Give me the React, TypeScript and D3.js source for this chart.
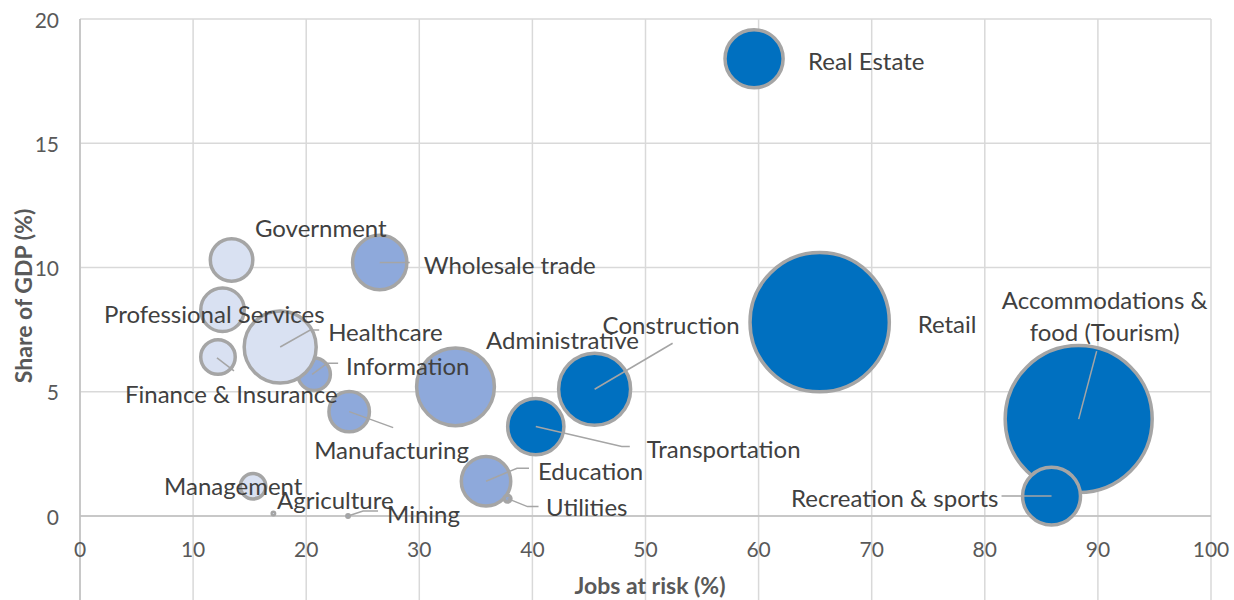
import React from 'react';
import * as d3 from 'd3';

// sector data
const sectors = [
  'Real Estate', 'Retail', 'Accommodations & food (Tourism)', 'Recreation & sports',
  'Construction', 'Transportation', 'Education', 'Utilities', 'Administrative',
  'Manufacturing', 'Information', 'Healthcare', 'Finance & Insurance',
  'Professional Services', 'Government', 'Wholesale trade', 'Management',
  'Agriculture', 'Mining',
];
const jobsAtRisk = [59.6, 65.4, 88.3, 85.9, 45.5, 40.3, 35.9, 37.8, 33.2, 23.8, 20.7, 17.7, 12.2, 12.6, 13.4, 26.5, 15.3, 17.1, 23.7];
const gdpShare = [18.4, 7.8, 3.9, 0.8, 5.1, 3.6, 1.4, 0.7, 5.2, 4.2, 5.7, 6.8, 6.4, 8.3, 10.3, 10.2, 1.2, 0.1, 0.0];
const bubbleSize = [16.6, 90, 100, 16.5, 25, 15.6, 12.2, 0.43, 29, 8.4, 5.6, 25, 6.25, 9.6, 9.2, 14.6, 3.6, 0.11, 0.11];
const riskGroup = ['high', 'high', 'high', 'high', 'high', 'high', 'mid', 'mid', 'mid', 'mid', 'mid', 'low', 'low', 'low', 'low', 'mid', 'low', 'low', 'mid'];
const xTicks = [0, 10, 20, 30, 40, 50, 60, 70, 80, 90, 100];
const yTicks = [0, 5, 10, 15, 20];

// label placement relative to bubble centre (px): text offset, anchor, leader path
type Lbl = { dx: number; dy: number; anchor?: string; lines?: string[]; leader?: [number, number][] };
const labelLayout: Record<string, Lbl> = {
  'Real Estate': { dx: 54, dy: 1 },
  'Retail': { dx: 98, dy: 1 },
  'Accommodations & food (Tourism)': { dx: 26, dy: -120, anchor: 'middle', lines: ['Accommodations &', 'food (Tourism)'], leader: [[0, 0], [18, -68]] },
  'Recreation & sports': { dx: -53, dy: 1, anchor: 'end', leader: [[0, 0], [-50, 0]] },
  'Construction': { dx: 8, dy: -65, leader: [[0, 0], [78, -46]] },
  'Transportation': { dx: 111, dy: 21, leader: [[0, 0], [86, 20], [94, 20]] },
  'Education': { dx: 52, dy: -11, leader: [[0, 0], [31, -13], [43, -13]] },
  'Utilities': { dx: 38.5, dy: 7.5, leader: [[0, 0], [20, 8], [31, 8]] },
  'Administrative': { dx: 30.5, dy: -48 },
  'Manufacturing': { dx: -35, dy: 37, leader: [[0, 0], [44, 16]] },
  'Information': { dx: 32, dy: -9.4, leader: [[-2, 0], [13, -11], [24, -11]] },
  'Healthcare': { dx: 48, dy: -16, leader: [[0, 0], [30, -17], [39, -17]] },
  'Finance & Insurance': { dx: -93, dy: 36, leader: [[-1, 1], [16, 14]] },
  'Professional Services': { dx: -118.5, dy: 3 },
  'Government': { dx: 23.4, dy: -33 },
  'Wholesale trade': { dx: 44, dy: 1.5, leader: [[0, 0], [30, 0]] },
  'Management': { dx: -89, dy: -1 },
  'Agriculture': { dx: 3.6, dy: -14.5 },
  'Mining': { dx: 39, dy: -3, leader: [[0, 0], [15, -5], [30, -5]] },
};

const fills: Record<string, string> = { high: '#0070C0', mid: '#8EA9DB', low: '#D9E1F2' };
const FONT = 'Lato, "DejaVu Sans", sans-serif';

export default function App() {
  const width = 1234, height = 600;
  const left = 80, right = 1211, top = 19, zeroY = 516;

  const x = d3.scaleLinear().domain([0, 100]).range([left, right]);
  const y = d3.scaleLinear().domain([0, 20]).range([zeroY, top]);
  const r = d3.scaleSqrt().domain([0, 100]).range([0, 75]);

  const rows = sectors.map((name, i) => ({
    name, jx: jobsAtRisk[i], gy: gdpShare[i], size: bubbleSize[i], group: riskGroup[i],
  }));
  const line = d3.line();

  return (
    <svg width={width} height={height} style={{ position: 'absolute', left: 0, top: 0, background: '#fff' }}>
      {/* gridlines */}
      {yTicks.map(t => (
        <line key={'gy' + t} x1={left} x2={right} y1={y(t)} y2={y(t)} stroke="#D9D9D9" strokeWidth={1.5} />
      ))}
      {xTicks.map(t => (
        <line key={'gx' + t} x1={x(t)} x2={x(t)} y1={top} y2={height} stroke="#D9D9D9" strokeWidth={1.5} />
      ))}
      <line x1={left} x2={left} y1={top} y2={height} stroke="#BFBFBF" strokeWidth={1.5} />
      <line x1={left} x2={right} y1={zeroY} y2={zeroY} stroke="#BFBFBF" strokeWidth={1.5} />

      {/* tick labels */}
      {yTicks.map(t => (
        <text key={'ly' + t} x={59} y={y(t)} textAnchor="end" dominantBaseline="central"
          fontFamily={FONT} fontSize={21} fill="#595959">{t}</text>
      ))}
      {xTicks.map(t => (
        <text key={'lx' + t} x={x(t)} y={548} textAnchor="middle" dominantBaseline="central"
          fontFamily={FONT} fontSize={21} fill="#595959">{t}</text>
      ))}

      {/* axis titles */}
      <text x={650} y={585} textAnchor="middle" dominantBaseline="central" fontFamily={FONT}
        fontSize={23} fontWeight="bold" fill="#595959">Jobs at risk (%)</text>
      <text transform="translate(23,296) rotate(-90)" textAnchor="middle" dominantBaseline="central"
        fontFamily={FONT} fontSize={23} fontWeight="bold" fill="#595959">Share of GDP (%)</text>

      {/* bubbles */}
      {rows.map(d => (
        <circle key={'c' + d.name} cx={x(d.jx)} cy={y(d.gy)} r={Math.max(r(d.size) - 1.5, 1.2)}
          fill={fills[d.group]} stroke="#A5A5A5" strokeWidth={3.5} />
      ))}

      {/* leader lines */}
      {rows.map(d => {
        const l = labelLayout[d.name];
        if (!l || !l.leader) return null;
        const cx = x(d.jx), cy = y(d.gy);
        return (
          <path key={'l' + d.name} d={line(l.leader.map(([a, b]) => [cx + a, cy + b])) || ''}
            fill="none" stroke="#A5A5A5" strokeWidth={1.5} />
        );
      })}

      {/* data labels */}
      {rows.map(d => {
        const l = labelLayout[d.name];
        const cx = x(d.jx), cy = y(d.gy);
        const lines = l.lines || [d.name];
        return (
          <text key={'t' + d.name} x={cx + l.dx} y={cy + l.dy} textAnchor={l.anchor || 'start'}
            dominantBaseline="central" fontFamily={FONT} fontSize={24} fill="#404040">
            {lines.map((s, k) => (
              <tspan key={k} x={cx + l.dx} dy={k === 0 ? 0 : 32}>{s}</tspan>
            ))}
          </text>
        );
      })}
    </svg>
  );
}
